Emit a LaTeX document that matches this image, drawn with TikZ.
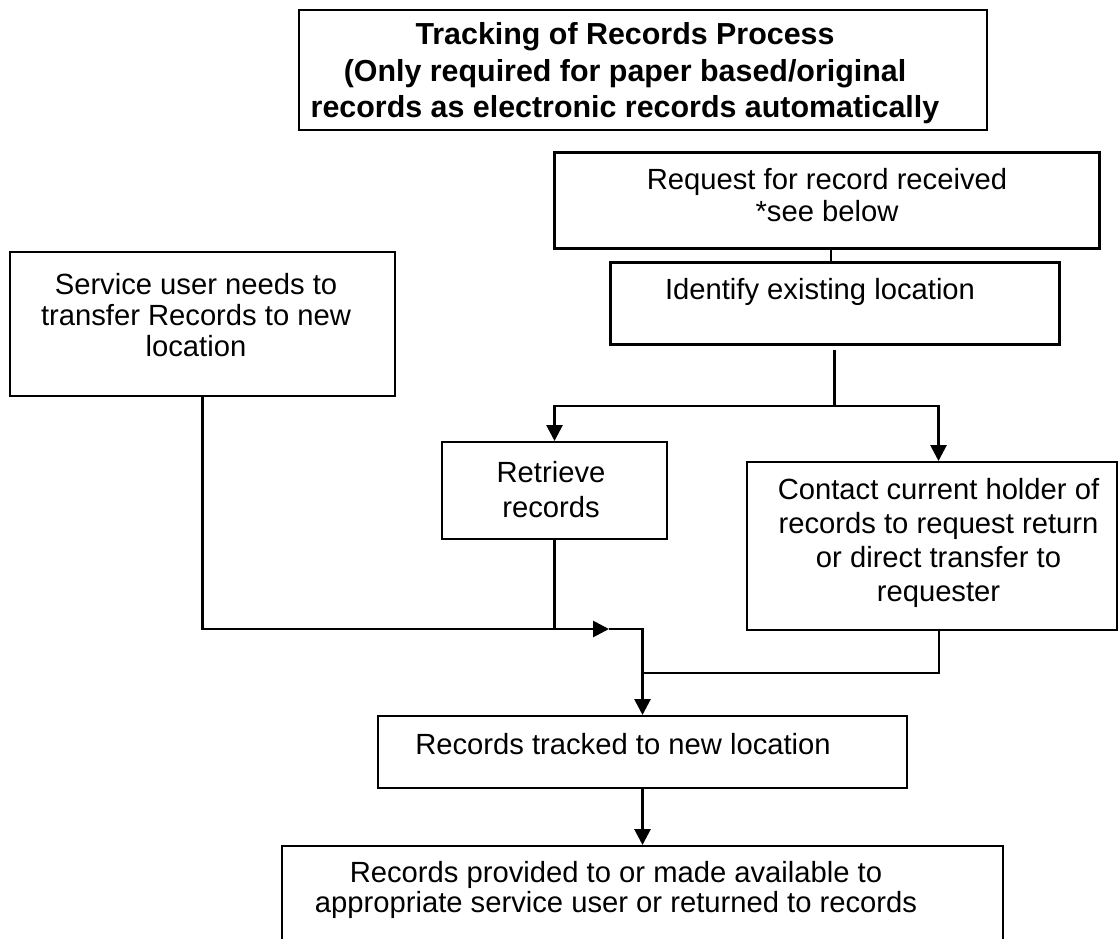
\documentclass[tikz,border=0pt]{standalone}
\usepackage{fontspec}
\setmainfont{Liberation Sans}
\usetikzlibrary{arrows.meta,calc}
\begin{document}
\begin{tikzpicture}[x=0.5pt,y=-0.5pt,
  box/.style={draw, line width=1pt, inner sep=0pt},
  thickbox/.style={box, line width=1.5pt},
  txt/.style={inner sep=0pt, align=center},
  conn/.style={line width=1.4pt},
  thinconn/.style={line width=1.1pt},
  arr/.style={conn, -{Triangle[length=8pt,width=8pt]}}]
\clip (0,0) rectangle (1118,938);
% boxes
\node[box, minimum width=344pt, minimum height=60pt] (title) at (643,70) {};
\node[thickbox, minimum width=272.5pt, minimum height=48pt] (request) at (826.5,200) {};
\node[thickbox, minimum width=224.5pt, minimum height=41pt] (identify) at (834.5,303) {};
\node[box, minimum width=192.5pt, minimum height=72pt] (service) at (202.5,324) {};
\node[box, minimum width=112.5pt, minimum height=48.5pt] (retrieve) at (554.5,490.5) {};
\node[box, minimum width=185pt, minimum height=84pt] (contact) at (931.5,546) {};
\node[box, minimum width=264.5pt, minimum height=36pt] (tracked) at (642.5,752) {};
\node[box, minimum width=360.5pt, minimum height=67pt] (final) at (642.5,913) {};
% texts
\node[txt, font=\bfseries\fontsize{15.2}{18.25}\selectfont] (titleT) at (625,73.5)
  {Tracking of Records Process\\(Only required for paper based/original\\records as electronic records automatically};
\node[txt, font=\fontsize{14.6}{16}\selectfont] (requestT) at (827,195)
  {Request for record received\\*see below};
\node[txt, font=\fontsize{14.6}{16}\selectfont] (identifyT) at (820,292)
  {Identify existing location};
\node[txt, font=\fontsize{14.6}{15.5}\selectfont] (serviceT) at (196,315)
  {Service user needs to\\transfer Records to new\\location};
\node[txt, font=\fontsize{14.6}{17.5}\selectfont] (retrieveT) at (551,490)
  {Retrieve\\records};
\node[txt, font=\fontsize{14.6}{17}\selectfont] (contactT) at (938.5,543)
  {Contact current holder of\\records to request return\\or direct transfer to\\requester};
\node[txt, font=\fontsize{14.6}{16}\selectfont] (trackedT) at (623,744)
  {Records tracked to new location};
\node[txt, font=\fontsize{14.6}{15}\selectfont] (finalT) at (616,890)
  {Records provided to or made available to\\appropriate service user or returned to records};
% connectors
\coordinate (reqx) at (831,0);
\coordinate (split) at (834.5,406);
\coordinate (junction) at (609,629);
\coordinate (merge) at (642.5,673);
\draw[conn] (request.south -| reqx) -- (identify.north -| reqx);
\draw[conn] ([yshift=-2pt]identify.south) -- (split);
\draw[arr] (split) -| (retrieve.north);
\draw[arr] (split) -| ([xshift=3.5pt]contact.north);
\draw[arr] (service.south) |- (junction);
\draw[conn] (retrieve.south) -- (retrieve.south |- junction);
\draw[arr] (junction) -| (tracked.north);
\draw[thinconn] ([xshift=3.75pt]contact.south) |- (merge);
\draw[arr] (tracked.south) -- (final.north);
\end{tikzpicture}
\end{document}
